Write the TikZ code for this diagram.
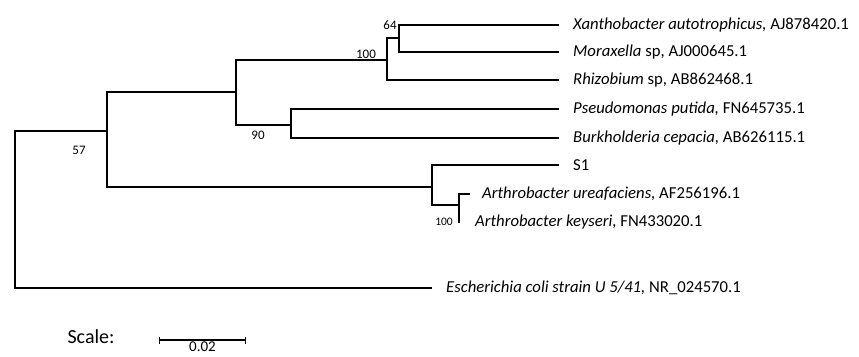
\documentclass[tikz,border=0pt]{standalone}
\usepackage{fontspec}
\setmainfont{Carlito}
\usetikzlibrary{arrows.meta,positioning}

\begin{document}
\begin{tikzpicture}[
  x=1pt,
  y=-1pt,
  branch/.style={
    line width=1.1pt,
    line cap=rect
  },
  taxon/.style={
    anchor=west,
    inner sep=0pt,
    font=\fontsize{16.7}{18}\selectfont
  },
  support/.style={
    inner sep=0pt,
    font=\fontsize{13}{15}\selectfont
  }
]
  \useasboundingbox (0,0) rectangle (859,356);

  \coordinate (root) at (15,200);
  \coordinate (A) at (107,131);
  \coordinate (B) at (236,92);
  \coordinate (C) at (387,60);
  \coordinate (D) at (399,38);
  \coordinate (E) at (291,125);
  \coordinate (F) at (432,187);
  \coordinate (G) at (459,205);

  \coordinate (xa) at (558,25);
  \coordinate (mo) at (558,52);
  \coordinate (rh) at (558,80);
  \coordinate (ps) at (558,109);
  \coordinate (bu) at (558,138);
  \coordinate (s1) at (558,165);
  \coordinate (au) at (469,194);
  \coordinate (ke) at (459,222);
  \coordinate (ec) at (431,288);

  \node[taxon,right=15pt of xa] (xaL) {\textit{Xanthobacter autotrophicus,} AJ878420.1};
  \node[taxon,right=15pt of mo] (moL) {\textit{Moraxella} sp, AJ000645.1};
  \node[taxon,right=15pt of rh] (rhL) {\textit{Rhizobium} sp, AB862468.1};
  \node[taxon,right=15pt of ps] (psL) {\textit{Pseudomonas putida,} FN645735.1};
  \node[taxon,right=15pt of bu] (buL) {\textit{Burkholderia cepacia,} AB626115.1};
  \node[taxon,right=15pt of s1] (s1L) {S1};
  \node[taxon,right=13pt of au] (auL) {\textit{Arthrobacter ureafaciens,} AF256196.1};
  \node[taxon,right=16pt of ke] (keL) {\textit{Arthrobacter keyseri,} FN433020.1};
  \node[taxon,right=15pt of ec] (ecL) {\textit{Escherichia coli strain U 5/41,} NR\_024570.1};

  \draw[branch] (root) |- (A);
  \draw[branch] (root) |- (ec);
  \draw[branch] (A) |- (B);
  \draw[branch] (A) |- (F);
  \draw[branch] (B) |- (C);
  \draw[branch] (B) |- (E);
  \draw[branch] (C) |- (D);
  \draw[branch] (C) |- (rh);
  \draw[branch] (D) |- (xa);
  \draw[branch] (D) |- (mo);
  \draw[branch] (E) |- (ps);
  \draw[branch] (E) |- (bu);
  \draw[branch] (F) |- (s1);
  \draw[branch] (F) |- (G);
  \draw[branch] (G) |- (au);
  \draw[branch] (G) |- (ke);

  \node[support] (bs64) at (390,25) {64};
  \node[support] (bs100a) at (366,54) {100};
  \node[support] (bs90) at (258,135) {90};
  \node[support] (bs57) at (79,150) {57};
  \node[support,font=\fontsize{11.5}{13}\selectfont] (bs100b) at (444,222) {100};

  \node[font=\fontsize{20}{22}\selectfont] (scale) at (91,337) {Scale:};
  \coordinate (sbL) at (159,340);
  \coordinate (sbR) at (246,340);
  \draw[branch,line cap=butt,{Bar[width=7pt]}-{Bar[width=7pt]}] (sbL) -- (sbR)
    node[midway,below=1pt,inner sep=0pt,font=\fontsize{15}{17}\selectfont] (sbT) {0.02};
\end{tikzpicture}
\end{document}
